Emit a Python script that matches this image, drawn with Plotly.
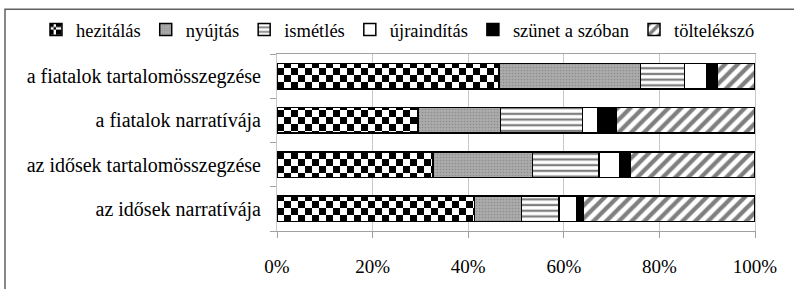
import plotly.graph_objects as go

categories = ["az idősek narratívája", "az idősek tartalomösszegzése",
              "a fiatalok narratívája", "a fiatalok tartalomösszegzése"]
series_names = ["hezitálás", "nyújtás", "ismétlés", "újraindítás", "szünet a szóban", "töltelékszó"]
hezitalas = [41.3, 32.6, 29.5, 46.4]
nyujtas = [9.8, 20.8, 17.3, 29.6]
ismetles = [7.9, 14.0, 17.1, 9.2]
ujrainditas = [3.8, 4.3, 3.1, 4.8]
szunet = [1.3, 2.3, 4.0, 2.1]
toltelekszo = [35.9, 26.0, 29.0, 7.9]
tick_vals = [0, 20, 40, 60, 80, 100]
tick_text = ["0%", "20%", "40%", "60%", "80%", "100%"]

FONT = "Liberation Serif"
values = [hezitalas, nyujtas, ismetles, ujrainditas, szunet, toltelekszo]

checker_custom = dict(path="M0,0H7V7H0ZM7,7H14V14H7Z", size=14,
                      fgcolor="black", bgcolor="white", fillmode="replace", solidity=1)
checker_fallback = dict(shape="x", size=9, solidity=0.3, fgcolor="black", bgcolor="white")

patterns = [
    None,
    dict(shape=".", size=3, solidity=0.25, fgcolor="#707070", bgcolor="#ababab"),
    dict(shape="-", size=5.7, solidity=0.4, fgcolor="black", bgcolor="white"),
    dict(shape="", fgcolor="white", bgcolor="white"),
    dict(shape="", fgcolor="black", bgcolor="black"),
    dict(shape="/", size=9, solidity=0.48, fgcolor="black", bgcolor="white"),
]
colors = ["white", "#ababab", "white", "white", "black", "white"]

fig = go.Figure()
for i, (name, vals) in enumerate(zip(series_names, values)):
    common = dict(name=name, x=vals, y=categories, orientation="h")
    if i == 0:
        try:
            tr = go.Bar(**common, marker=dict(color="white", pattern=checker_custom,
                                              line=dict(color="black", width=1.5)))
        except Exception:
            tr = go.Bar(**common, marker=dict(color="white", pattern=checker_fallback,
                                              line=dict(color="black", width=1.5)))
    else:
        tr = go.Bar(**common, marker=dict(color=colors[i], pattern=patterns[i],
                                          line=dict(color="black", width=1.5)))
    fig.add_trace(tr)

fig.update_layout(
    width=794, height=289,
    barmode="stack", bargap=0.426,
    margin=dict(l=277, r=39, t=54, b=57.5, autoexpand=False),
    paper_bgcolor="white", plot_bgcolor="white",
    font=dict(family=FONT, size=19, color="black"),
    showlegend=True,
    legend=dict(orientation="h", xref="paper", yref="paper",
                x=(36 - 277) / 478, y=1 + (54 - 30) / 177.5, xanchor="left", yanchor="middle",
                font=dict(family=FONT, size=18.5, color="black"),
                traceorder="normal", itemwidth=30, bgcolor="rgba(0,0,0,0)"),
    xaxis=dict(range=[0, 100], tickvals=tick_vals, ticktext=tick_text,
               tickfont=dict(family=FONT, size=19),
               showgrid=True, gridcolor="#c8c8c8", gridwidth=1,
               showline=True, linecolor="#a0a0a0", linewidth=1, mirror=True,
               ticks="outside", ticklen=6, tickcolor="#a0a0a0", automargin=False,
               ticklabelstandoff=12, zeroline=False, fixedrange=True),
    yaxis=dict(categoryorder="array", categoryarray=categories, automargin=False,
               tickfont=dict(family=FONT, size=20),
               showline=True, linecolor="#c8c8c8", linewidth=1, mirror=True,
               ticks="outside", ticklen=6, tickcolor="#a0a0a0", tickson="boundaries",
               ticklabelstandoff=11, showgrid=False, fixedrange=True),
    shapes=[dict(type="rect", xref="paper", yref="paper",
                 x0=(5 - 277) / 478, x1=1.2, y0=-0.5, y1=1 + (54 - 9) / 177.5,
                 line=dict(color="#606060", width=1.5), fillcolor="rgba(0,0,0,0)", layer="below")],
)

fig.write_html("out.html", config={"displayModeBar": False},
               post_script="document.body.style.margin='0';document.body.style.overflow='hidden';")
